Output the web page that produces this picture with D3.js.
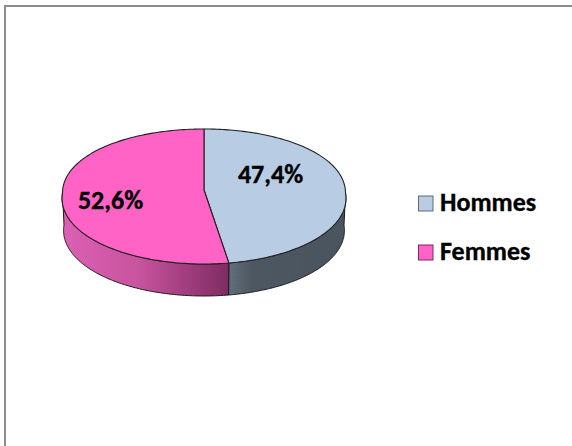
<!DOCTYPE html>
<html><head><meta charset="utf-8">
<script src="https://cdn.jsdelivr.net/npm/d3@7"></script>
<style>html,body{margin:0;padding:0;background:#fff}svg{display:block}text{font-family:"Carlito","Lato","Liberation Sans",sans-serif;font-weight:700;fill:#000;stroke:#000;stroke-width:.35}</style>
</head><body><svg id="c" width="572" height="446"></svg>
<script>
const categories = ["Hommes", "Femmes"];
const seriesValues = [47.4, 52.6];
const valueLabels = ["47,4%", "52,6%"];
const colors = ["#b8cce4", "#ff63c6"];
const W=572,H=446;
const svg=d3.select("#c");
const cx=204,cy=193,rx=141.5,ry=67.5,depth=32,apexY=190,bulge=3.5,skew=.08;
svg.append("path").attr("d",`M5,${H}V6H${W}`).attr("fill","none").attr("stroke","#8c8c8c").attr("stroke-width",2);
const defs=svg.append("defs");
const g1=defs.append("linearGradient").attr("id","sideF").attr("gradientUnits","userSpaceOnUse").attr("x1",63).attr("x2",229).attr("y1",0).attr("y2",0);
g1.append("stop").attr("offset",0).attr("stop-color","#dc5fb3");
g1.append("stop").attr("offset",.45).attr("stop-color","#c9549f");
g1.append("stop").attr("offset",1).attr("stop-color","#7e2b62");
const g2=defs.append("linearGradient").attr("id","sideH").attr("gradientUnits","userSpaceOnUse").attr("x1",229).attr("x2",345).attr("y1",0).attr("y2",0);
g2.append("stop").attr("offset",0).attr("stop-color","#626e7b");
g2.append("stop").attr("offset",.2).attr("stop-color","#4d5761");
g2.append("stop").attr("offset",1).attr("stop-color","#4a545e");
const pie=d3.pie().sort(null).value(d=>d);
const arcs=pie(seriesValues);
const P=(a,dy=0,dr=0)=>{const c=Math.cos(a),s=Math.sin(a);
  return [cx+(rx-dr)*s*(1-skew*Math.min(c,0)),cy-ry*c+bulge*c*c+dy];};
const samples=(a0,a1)=>d3.range(0,161).map(i=>a0+(a1-a0)*i/160);
const line=d3.line();
const sideIds=["url(#sideH)","url(#sideF)"];
arcs.forEach((d,i)=>{
  const a0=Math.max(d.startAngle,Math.PI/2), a1=Math.min(d.endAngle,Math.PI*1.5);
  if(a1<=a0) return;
  const s=samples(a0,a1);
  const pts=s.map(a=>P(a)).concat(s.slice().reverse().map(a=>P(a,depth,1.5)));
  svg.append("path").attr("d",line(pts)+"Z").attr("fill",sideIds[i]).attr("stroke","#1a1a1a").attr("stroke-width",1).attr("stroke-linejoin","round");
});
arcs.forEach((d,i)=>{
  const pts=[[cx,apexY]].concat(samples(d.startAngle,d.endAngle).map(a=>P(a)));
  svg.append("path").attr("d",line(pts)+"Z").attr("fill",colors[i]).attr("stroke","#222").attr("stroke-width",1.1).attr("stroke-linejoin","round");
});
const labelPos=[[270.5,183],[110.5,209]];
valueLabels.forEach((t,i)=>{
  svg.append("text").attr("x",labelPos[i][0]).attr("y",labelPos[i][1]).attr("text-anchor","middle").attr("font-size",26).text(t);
});
const legY=[203.5,252.5];
const legBase=[211,260];
categories.forEach((c,i)=>{
  svg.append("rect").attr("x",418.5).attr("y",legY[i]-7.5).attr("width",14.5).attr("height",15).attr("fill",colors[i]).attr("stroke",i?"#7a2a60":"#5f6b78").attr("stroke-width",1);
  svg.append("text").attr("x",440).attr("y",legBase[i]).attr("font-size",26).text(c);
});
</script></body></html>
